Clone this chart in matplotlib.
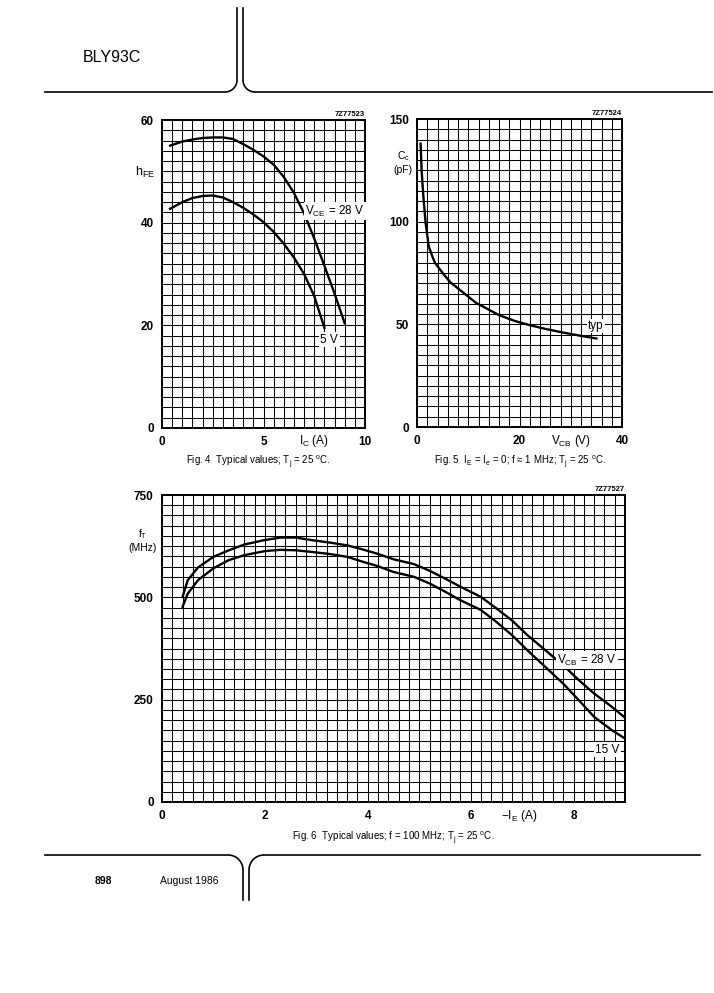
import numpy as np
import matplotlib.pyplot as plt

plt.rcParams['font.family'] = ['Liberation Sans', 'DejaVu Sans']
plt.rcParams['mathtext.default'] = 'regular'

# Fig. 4: hFE versus IC
ic = [0.4, 1.0, 1.5, 2.0, 2.5, 3.0, 3.5, 4.0, 4.5, 5.0, 5.5, 6.0, 6.5, 7.0, 7.5, 8.0, 8.5, 9.0]
hfe_28v = [55.0, 55.8, 56.2, 56.5, 56.6, 56.6, 56.3, 55.3, 54.2, 52.9, 51.3, 48.9, 45.8, 41.8, 36.9, 31.6, 26.2, 20.4]
ic_5v = [0.4, 1.0, 1.5, 2.0, 2.5, 3.0, 3.5, 4.0, 4.5, 5.0, 5.5, 6.0, 6.5, 7.0, 7.5, 8.0]
hfe_5v = [42.7, 44.0, 44.8, 45.2, 45.3, 44.9, 44.0, 42.9, 41.6, 40.1, 38.2, 35.9, 33.2, 30.0, 25.7, 19.5]

# Fig. 5: Cc versus VCB
vcb = [0.7, 0.9, 1.25, 1.7, 2.3, 3.0, 3.5, 5.0, 6.5, 8.5, 11.5, 16, 19, 22, 25, 28.5, 32, 35]
cc = [138, 125, 112, 99, 88, 83, 80, 75, 70.5, 66.5, 60.5, 54.5, 51.7, 49.6, 47.8, 46.0, 44.4, 43.1]

# Fig. 6: fT versus -IE
ie = [0.4, 0.5, 0.7, 1.0, 1.3, 1.6, 2.0, 2.3, 2.6, 2.9, 3.25, 3.6, 3.9, 4.2, 4.5, 4.9, 5.2,
      5.5, 5.8, 6.2, 6.5, 6.8, 7.1, 7.45, 7.8, 8.1, 8.4, 8.75, 9.0]
ft_28v = [501, 542, 573, 599, 615, 629, 640, 646, 646, 640, 634, 627, 617, 606, 593, 581, 565,
          546, 526, 501, 473, 444, 408, 371, 334, 298, 265, 232, 206]
ft_15v = [477, 509, 542, 571, 591, 603, 613, 616, 615, 611, 606, 599, 587, 576, 562, 550, 534,
          514, 493, 469, 440, 408, 371, 330, 289, 249, 208, 175, 155]

W, H = 714, 993
TICK = dict(fontsize=8.5, fontweight='bold')
LABEL_BOX = dict(fc='white', ec='none', pad=1.0)


def rect(left, top, right, bottom):
    # pixel box -> figure fraction
    return [left / W, 1 - bottom / H, (right - left) / W, (bottom - top) / H]


def grid_axes(fig, box, xmax, ymax, xstep, ystep, xticks, yticks):
    '''
    Axes with a dense graph-paper grid, like the datasheet
    '''
    ax = fig.add_axes(rect(*box))
    ax.set_xlim(0, xmax)
    ax.set_ylim(0, ymax)
    ax.set_xticks(np.arange(0, xmax + xstep / 2, xstep), minor=True)
    ax.set_yticks(np.arange(0, ymax + ystep / 2, ystep), minor=True)
    ax.set_xticks(xticks)
    ax.set_yticks(yticks)
    ax.set_xticklabels([str(t) for t in xticks], **TICK)
    ax.set_yticklabels([str(t) for t in yticks], **TICK)
    ax.tick_params(which='both', length=0)
    ax.tick_params(axis='x', pad=6)
    ax.tick_params(axis='y', pad=6)
    ax.grid(True, which='both', color='black', lw=0.75)
    for s in ax.spines.values():
        s.set_linewidth(1.4)
    return ax


fig = plt.figure(figsize=(7.14, 9.93), dpi=100)

# page frame (header / footer rules)
page = fig.add_axes([0, 0, 1, 1])
page.set_xlim(0, W)
page.set_ylim(H, 0)
page.axis('off')
t = np.linspace(0, np.pi / 2, 30)
r = 12
page.plot(np.r_[45, 225 + r * np.sin(t), 237], np.r_[92, 80 + r * np.cos(t), 8], color='black', lw=1.2)
page.plot(np.r_[243, 255 - r * np.sin(t)[::-1], 712], np.r_[8, 80 + r * np.cos(t)[::-1], 92], color='black', lw=1.2)
r = 15
page.plot(np.r_[45, 228 + r * np.sin(t), 243], np.r_[855, 870 - r * np.cos(t), 900], color='black', lw=1.2)
page.plot(np.r_[249, 264 - r * np.sin(t)[::-1], 700], np.r_[900, 870 - r * np.cos(t)[::-1], 855], color='black', lw=1.2)
page.text(83, 58, 'BLY93C', fontsize=11.5, va='center', ha='left')
page.text(95, 881, '898', fontsize=7.5, fontweight='bold', va='center', ha='left')
page.text(160, 881, 'August 1986', fontsize=7.5, va='center', ha='left')

# Fig. 4
ax4 = grid_axes(fig, (162, 120, 365, 428), 10, 60, 0.5, 2, [0, 5, 10], [0, 20, 40, 60])
ax4.plot(ic, hfe_28v, color='black', lw=1.7)
ax4.plot(ic_5v, hfe_5v, color='black', lw=1.7)
ax4.text(7.05, 42.2, 'V$_{CE}$ = 28 V', fontsize=8.5, va='center', ha='left', bbox=LABEL_BOX)
ax4.text(7.8, 17.2, '5 V', fontsize=8.5, va='center', ha='left', bbox=LABEL_BOX)
ax4.text(-0.035, 0.83, 'h$_{FE}$', transform=ax4.transAxes, fontsize=9, ha='right', va='center')
ax4.text(7.5, -0.042, 'I$_C$ (A)', transform=ax4.get_xaxis_transform(), fontsize=8.5, ha='center', va='center')
ax4.text(1.0, 1.008, '7Z77523', transform=ax4.transAxes, fontsize=5.5, fontweight='bold', ha='right', va='bottom')
page.text(258, 462, 'Fig. 4  Typical values; T$_j$ = 25 $^o$C.', fontsize=7, ha='center', va='center')

# Fig. 5
ax5 = grid_axes(fig, (417, 119, 622, 427), 40, 150, 2, 5, [0, 20, 40], [0, 50, 100, 150])
ax5.plot(vcb, cc, color='black', lw=1.7)
ax5.text(33.4, 49.2, 'typ', fontsize=8.5, va='center', ha='left', bbox=LABEL_BOX)
ax5.text(-0.068, 0.86, 'C$_c$\n(pF)', transform=ax5.transAxes, fontsize=7.5, ha='center', va='center',
         linespacing=1.3)
ax5.text(30, -0.045, 'V$_{CB}$ (V)', transform=ax5.get_xaxis_transform(), fontsize=8.5, ha='center', va='center')
ax5.text(1.0, 1.008, '7Z77524', transform=ax5.transAxes, fontsize=5.5, fontweight='bold', ha='right', va='bottom')
page.text(520, 462, 'Fig. 5  I$_E$ = I$_e$ = 0; f \u2248 1 MHz; T$_j$ = 25 $^o$C.', fontsize=7,
          ha='center', va='center')

# Fig. 6
ax6 = grid_axes(fig, (162, 495, 625, 802), 9, 750, 0.2, 25, [0, 2, 4, 6, 8], [0, 250, 500, 750])
ax6.plot(ie, ft_28v, color='black', lw=1.7)
ax6.plot(ie, ft_15v, color='black', lw=1.7)
ax6.text(7.68, 346, 'V$_{CB}$ = 28 V', fontsize=8.5, va='center', ha='left', bbox=LABEL_BOX)
ax6.text(8.42, 128, '15 V', fontsize=8.5, va='center', ha='left', bbox=LABEL_BOX)
ax6.text(-0.041, 0.853, 'f$_T$\n(MHz)', transform=ax6.transAxes, fontsize=7.5, ha='center', va='center',
         linespacing=1.3)
ax6.text(6.94, -0.045, '\u2212I$_E$ (A)', transform=ax6.get_xaxis_transform(), fontsize=8.5, ha='center', va='center')
ax6.text(1.0, 1.008, '7Z77527', transform=ax6.transAxes, fontsize=5.5, fontweight='bold', ha='right', va='bottom')
page.text(393, 838, 'Fig. 6  Typical values; f = 100 MHz; T$_j$ = 25 $^o$C.', fontsize=7,
          ha='center', va='center')

fig.savefig('out.png', dpi=100)
